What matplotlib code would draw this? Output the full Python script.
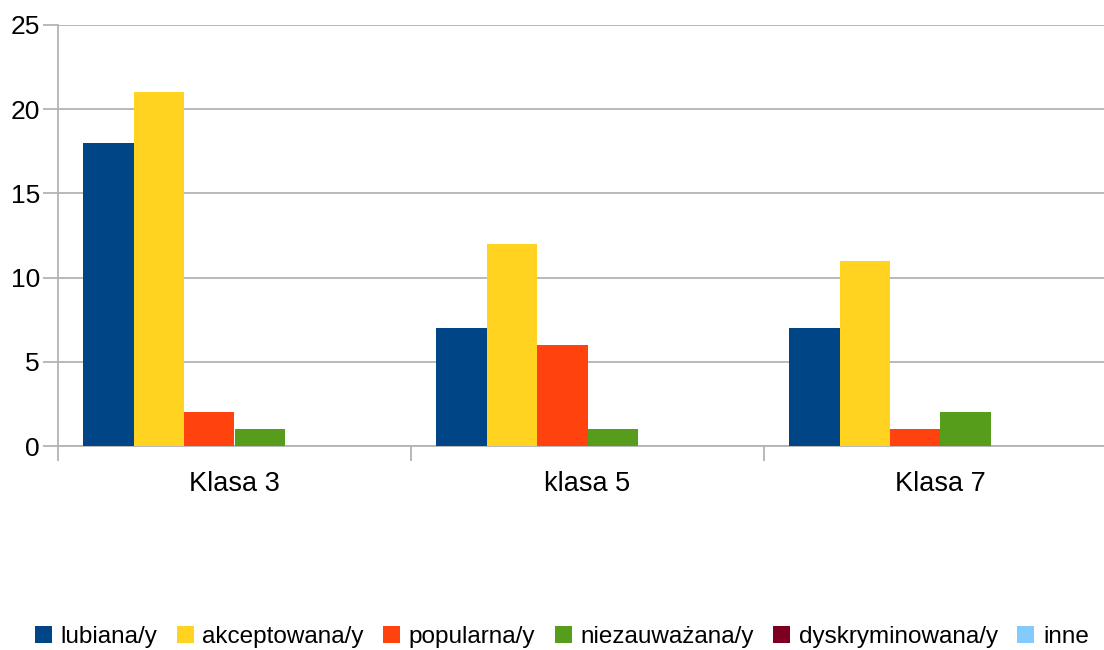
import matplotlib.pyplot as plt
import numpy as np

plt.rcParams['font.family'] = ['Liberation Sans', 'DejaVu Sans']

# - DATA -
categories = ['Klasa 3', 'klasa 5', 'Klasa 7']
series = ['lubiana/y', 'akceptowana/y', 'popularna/y', 'niezauważana/y', 'dyskryminowana/y', 'inne']
lubiana = [18, 7, 7]
akceptowana = [21, 12, 11]
popularna = [2, 6, 1]
niezauwazana = [1, 1, 2]
dyskryminowana = [0, 0, 0]
inne = [0, 0, 0]
colors = ['#004586', '#ffd320', '#ff420e', '#579d1c', '#7e0021', '#83caff']
# - DATA -

values = [lubiana, akceptowana, popularna, niezauwazana, dyskryminowana, inne]

fig = plt.figure(figsize=(11.04, 6.5), dpi=100)
# plot area runs past the right edge of the picture, as in the reference
ax = fig.add_axes([58/1104, 1 - 446/650, (1117 - 58)/1104, (446 - 25)/650])

w = 1/7
x = np.arange(len(categories))
handles = []
for i, (name, vals) in enumerate(zip(series, values)):
    h = ax.bar(x - 0.5 + w/2 + (i + 0.5)*w, vals, width=w, color=colors[i], label=name, zorder=3)
    handles.append(h)

ax.set_xlim(-0.5, 2.5)
ax.set_ylim(0, 25)
ax.set_yticks([0, 5, 10, 15, 20, 25])
ax.set_xticks([-0.5, 0.5, 1.5, 2.5])
ax.set_xticklabels([])
ax.set_xticks(x, minor=True)
ax.set_xticklabels(categories, minor=True)
ax.tick_params(axis='x', which='minor', length=0, pad=18, labelsize=19.5)
ax.tick_params(axis='x', which='major', length=11, color='#b3b3b3', width=1.3)
ax.tick_params(axis='y', length=11, color='#b3b3b3', width=1.3, labelsize=19, pad=2)
ax.grid(axis='y', color='#b3b3b3', linewidth=1.3, zorder=0)
for s in ['top', 'right']:
    ax.spines[s].set_visible(False)
for s in ['left', 'bottom']:
    ax.spines[s].set_color('#b3b3b3')
    ax.spines[s].set_linewidth(1.3)

fig.legend(handles=handles, loc='center', bbox_to_anchor=(0.509, 1 - 637/650), ncol=6,
           frameon=False, fontsize=17.5, handlelength=0.7, handleheight=0.7,
           handletextpad=0.35, columnspacing=0.8)

fig.savefig('out.png', dpi=100)
